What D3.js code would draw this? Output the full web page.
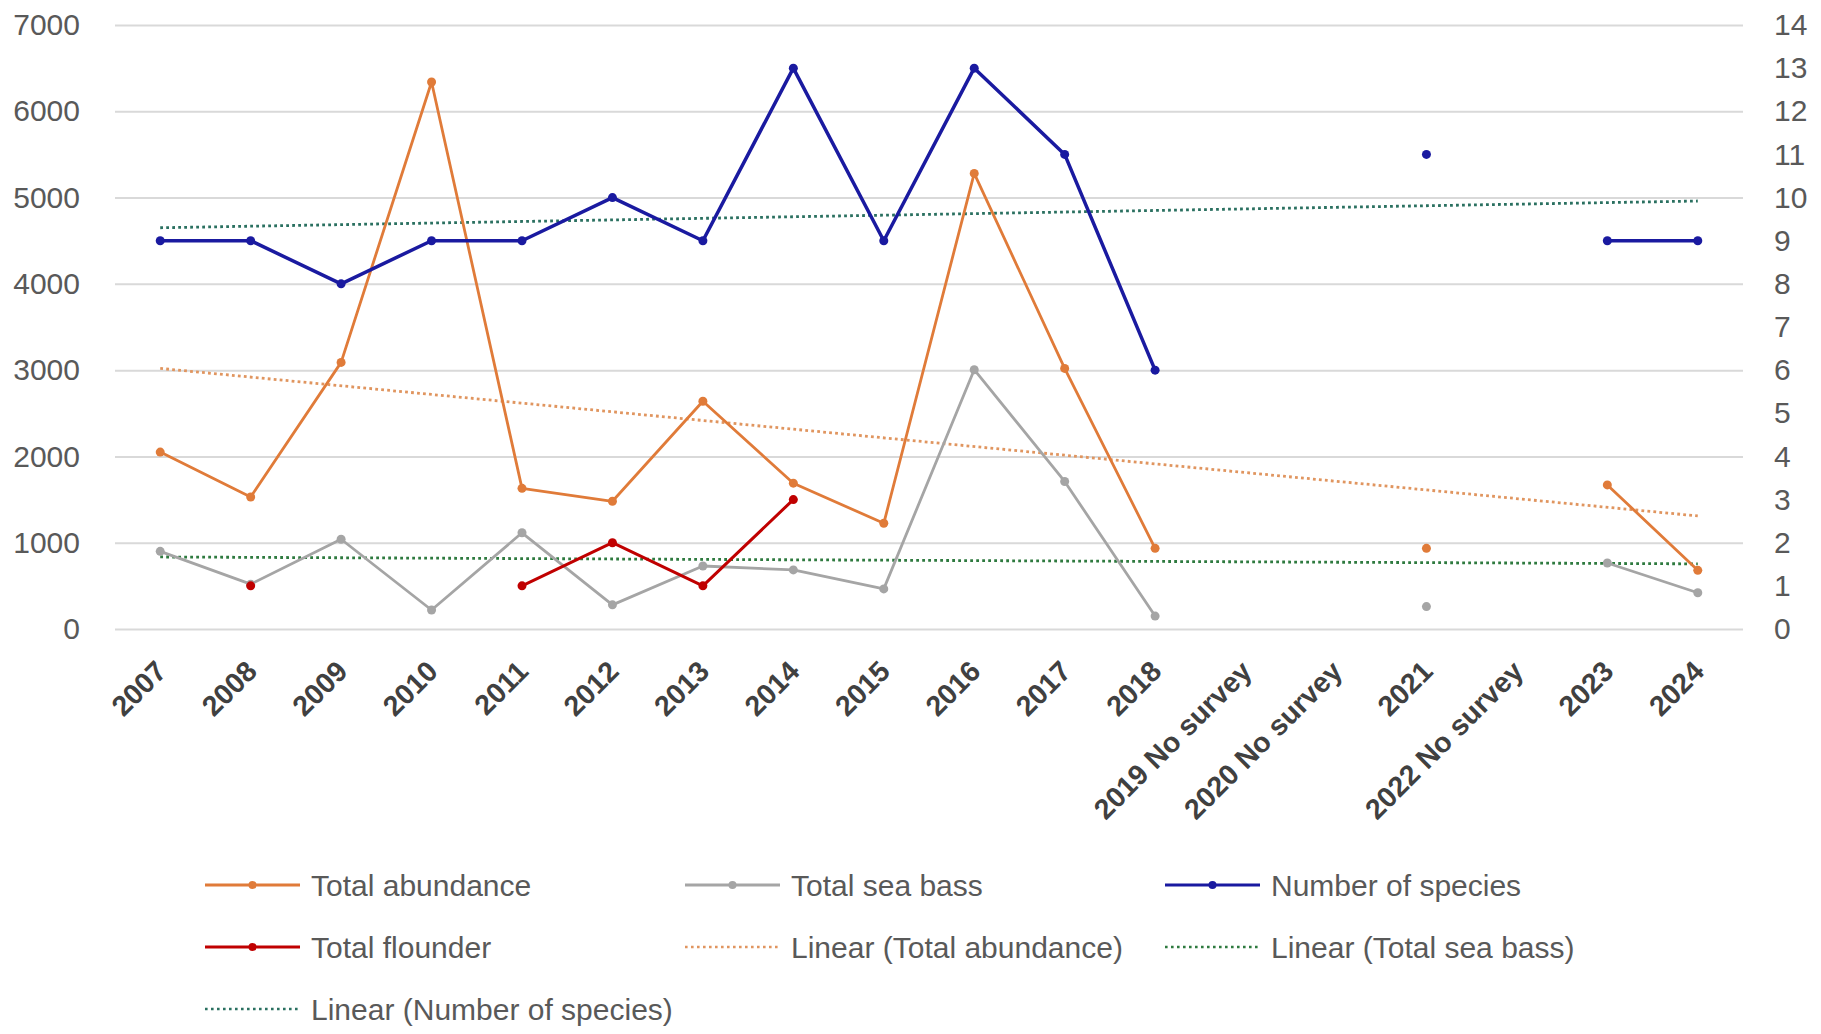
<!DOCTYPE html>
<html>
<head>
<meta charset="utf-8">
<script src="https://cdn.jsdelivr.net/npm/d3@7"></script>
<style>
  body { margin: 0; background: #fff; }
  svg text { font-family: "Liberation Sans", Arial, sans-serif; }
</style>
</head>
<body>
<svg id="chart" width="1821" height="1034"></svg>
<script>
const years = ['2007', '2008', '2009', '2010', '2011', '2012', '2013', '2014', '2015', '2016', '2017', '2018',
    '2019 No survey', '2020 No survey', '2021', '2022 No survey', '2023', '2024'];

// left axis series
const totalAbundance = [2050, 1530, 3090, 6340, 1630, 1480, 2640, 1690, 1225, 5280, 3020, 935, null, null, 935, null, 1670, 680];
const totalSeaBass = [900, 520, 1040, 220, 1115, 280, 730, 685, 465, 3005, 1710, 150, null, null, 260, null, 765, 420];
// right axis series
const numberOfSpecies = [9, 9, 8, 9, 9, 10, 9, 13, 9, 13, 11, 6, null, null, 11, null, 9, 9];
const totalFlounder = [null, 1, null, null, 1, 2, 1, 3, null, null, null, null, null, null, null, null, null, null];

// trendline ends (first and last category)
const trendAbundance = [3020, 1310];
const trendSeaBass = [835, 755];
const trendSpecies = [9.3, 9.92];

const leftTicks = [0, 1000, 2000, 3000, 4000, 5000, 6000, 7000];
const rightTicks = d3.range(0, 15);

const svg = d3.select('#chart');
const plotL = 115, plotR = 1743, plotT = 25, plotB = 629;

const x = d3.scalePoint().domain(years).range([plotL, plotR]).padding(0.5);
const yL = d3.scaleLinear().domain([0, 7000]).range([plotB, plotT]);
const yR = d3.scaleLinear().domain([0, 14]).range([plotB, plotT]);

// gridlines
svg.append('g')
    .attr('transform', `translate(${plotL},0)`)
    .call(d3.axisLeft(yL).tickValues(leftTicks).tickSize(-(plotR - plotL)).tickFormat(''))
    .call(g => g.select('.domain').remove())
    .call(g => g.selectAll('line').attr('stroke', '#d9d9d9').attr('stroke-width', 2));

// left axis labels
svg.append('g')
    .attr('transform', `translate(${plotL},0)`)
    .call(d3.axisLeft(yL).tickValues(leftTicks).tickFormat(d3.format('d')).tickSize(0).tickPadding(35))
    .call(g => g.select('.domain').remove())
    .call(g => g.selectAll('text')
        .attr('font-size', 30).attr('fill', '#595959')
        .style('font-family', '"Liberation Sans", Arial, sans-serif'));

// right axis labels
svg.append('g')
    .attr('transform', `translate(${plotR},0)`)
    .call(d3.axisRight(yR).tickValues(rightTicks).tickSize(0).tickPadding(31))
    .call(g => g.select('.domain').remove())
    .call(g => g.selectAll('text')
        .attr('font-size', 30).attr('fill', '#595959')
        .style('font-family', '"Liberation Sans", Arial, sans-serif'));

// category labels
svg.append('g')
    .selectAll('text')
    .data(years)
    .join('text')
    .attr('transform', d => `translate(${x(d) + 8},${plotB + 44}) rotate(-45)`)
    .attr('text-anchor', 'end')
    .attr('font-size', 28.5)
    .attr('font-weight', 'bold')
    .attr('fill', '#404040')
    .text(d => d);

// trendlines
function trend(vals, scale, color) {
    svg.append('line')
        .attr('x1', x(years[0])).attr('y1', scale(vals[0]))
        .attr('x2', x(years[years.length - 1])).attr('y2', scale(vals[1]))
        .attr('stroke', color)
        .attr('stroke-width', 2.8)
        .attr('stroke-dasharray', '2.8 3.2');
}

trend(trendSpecies, yR, '#2a7060');
trend(trendAbundance, yL, '#e0955f');
trend(trendSeaBass, yL, '#2e7a3f');

function series(vals, scale, color, width) {
    const line = d3.line()
        .defined(d => d != null)
        .x((d, i) => x(years[i]))
        .y(d => scale(d));
    svg.append('path')
        .datum(vals)
        .attr('fill', 'none')
        .attr('stroke', color)
        .attr('stroke-width', width)
        .attr('stroke-linejoin', 'round')
        .attr('d', line);
    svg.append('g')
        .selectAll('circle')
        .data(vals.map((v, i) => ({ v, i })).filter(d => d.v != null))
        .join('circle')
        .attr('cx', d => x(years[d.i]))
        .attr('cy', d => scale(d.v))
        .attr('r', 4.5)
        .attr('fill', color);
}

series(totalSeaBass, yL, '#a5a5a5', 2.8);
series(totalAbundance, yL, '#e07b39', 2.8);
series(totalFlounder, yR, '#c00000', 3);
series(numberOfSpecies, yR, '#1a1aa0', 3.5);

// legend
const legendItems = [
    { name: 'Total abundance', color: '#e07b39', dotted: false, col: 0, row: 0 },
    { name: 'Total sea bass', color: '#a5a5a5', dotted: false, col: 1, row: 0 },
    { name: 'Number of species', color: '#1a1aa0', dotted: false, col: 2, row: 0 },
    { name: 'Total flounder', color: '#c00000', dotted: false, col: 0, row: 1 },
    { name: 'Linear (Total abundance)', color: '#e0955f', dotted: true, col: 1, row: 1 },
    { name: 'Linear (Total sea bass)', color: '#2e7a3f', dotted: true, col: 2, row: 1 },
    { name: 'Linear (Number of species)', color: '#2a7060', dotted: true, col: 0, row: 2 }
];
const colX = [205, 685, 1165];
const rowY = [885, 947, 1009];

const lg = svg.append('g')
    .selectAll('g')
    .data(legendItems)
    .join('g')
    .attr('transform', d => `translate(${colX[d.col]},${rowY[d.row]})`);

lg.append('line')
    .attr('x1', 0).attr('x2', 95)
    .attr('stroke', d => d.color)
    .attr('stroke-width', d => d.dotted ? 2.6 : 3)
    .attr('stroke-dasharray', d => d.dotted ? '2.6 3.4' : null);

lg.filter(d => !d.dotted).append('circle')
    .attr('cx', 47.5).attr('r', 4)
    .attr('fill', d => d.color);

lg.append('text')
    .attr('x', 106)
    .attr('dy', '0.35em')
    .attr('font-size', 30)
    .attr('fill', '#595959')
    .text(d => d.name);
</script>
</body>
</html>
